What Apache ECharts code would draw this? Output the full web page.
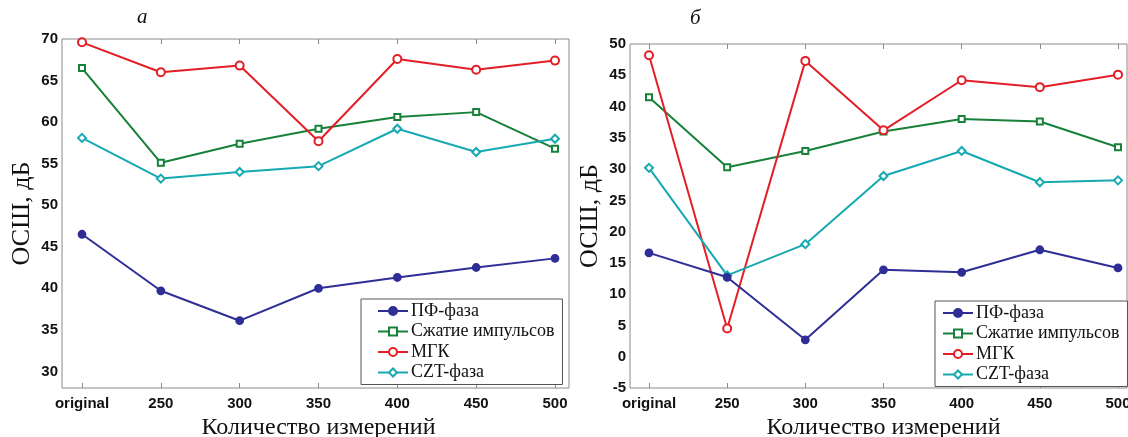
<!DOCTYPE html>
<html>
<head>
<meta charset="utf-8">
<script src="https://cdn.jsdelivr.net/npm/echarts@6/dist/echarts.min.js"></script>
<style>
  html, body { margin: 0; padding: 0; background: #fff; }
  #chart { width: 1128px; height: 437px; }
</style>
</head>
<body>
<div id="chart"></div>
<script>
// подписи по оси X
const categories = ['original', '250', '300', '350', '400', '450', '500']
const seriesNames = ['ПФ-фаза', 'Сжатие импульсов', 'МГК', 'CZT-фаза']

// а: ОСШ, дБ
const leftPf = [46.5, 39.7, 36.1, 40.0, 41.3, 42.5, 43.6]
const leftPulse = [66.5, 55.1, 57.4, 59.2, 60.6, 61.2, 56.8]
const leftMgk = [69.6, 66.0, 66.8, 57.7, 67.6, 66.3, 67.4]
const leftCzt = [58.1, 53.2, 54.0, 54.7, 59.2, 56.4, 58.0]

// б: ОСШ, дБ
const rightPf = [16.6, 12.7, 2.7, 13.9, 13.5, 17.1, 14.2]
const rightPulse = [41.5, 30.3, 32.9, 36.0, 38.0, 37.6, 33.5]
const rightMgk = [48.2, 4.5, 47.3, 36.2, 44.2, 43.1, 45.1]
const rightCzt = [30.2, 13.0, 18.0, 28.9, 32.9, 27.9, 28.2]

const colors = ['#2e2e96', '#17813a', '#e41e26', '#16a9b2']
const symbols = ['circle', 'emptyRect', 'emptyCircle', 'emptyDiamond']
const symbolSizes = [7, 6, 8, 8]

const frameColor = '#8a8a8a'
const tickFont = { fontFamily: 'Liberation Sans', fontWeight: 'bold', fontSize: 15, color: '#111' }
const serif = 'Liberation Serif'

// рамка (MATLAB box) + сетка с данными внутри неё
function buildPanel (frame, data, yMin, yMax, gi) {
  const grids = [
    { left: frame.left, top: frame.top, width: frame.width, height: frame.height, outerBoundsMode: 'none',
      show: true, borderColor: frameColor, borderWidth: 1, backgroundColor: 'transparent' },
    { left: data.left, top: frame.top, width: data.width, height: frame.height, outerBoundsMode: 'none' },
  ]
  const offL = data.left - frame.left
  const offR = frame.left + frame.width - (data.left + data.width)
  const yScale = { min: yMin, max: yMax, minInterval: 5, maxInterval: 5, splitNumber: 10 }
  const xAxes = [
    { gridIndex: gi, type: 'value', show: false },
    {
      gridIndex: gi + 1, type: 'category', data: categories, boundaryGap: false,
      axisLine: { show: false, onZero: false },
      axisTick: { inside: true, length: 5, lineStyle: { color: frameColor } },
      axisLabel: { ...tickFont, margin: 8 },
      name: 'Количество измерений', nameLocation: 'middle', nameGap: 25,
      nameTextStyle: { fontFamily: serif, fontSize: 24, color: '#111' },
    },
    {
      gridIndex: gi + 1, type: 'category', data: categories, boundaryGap: false, position: 'top',
      axisLine: { show: false, onZero: false }, axisLabel: { show: false },
      axisTick: { inside: true, length: 5, lineStyle: { color: frameColor } },
    },
  ]
  const yAxes = [
    { gridIndex: gi, type: 'value', show: false },
    {
      gridIndex: gi + 1, type: 'value', ...yScale, offset: offL,
      splitLine: { show: false }, axisLine: { show: false },
      axisTick: { inside: true, length: 5, lineStyle: { color: frameColor } },
      axisLabel: { ...tickFont, margin: 4, formatter: v => (v % 5 === 0 ? v : '') },
      name: 'ОСШ, дБ', nameLocation: 'middle', nameGap: 27,
      nameTextStyle: { fontFamily: serif, fontSize: 26, color: '#111' },
    },
    {
      gridIndex: gi + 1, type: 'value', ...yScale, offset: offR, position: 'right',
      splitLine: { show: false }, axisLine: { show: false }, axisLabel: { show: false },
      axisTick: { inside: true, length: 5, lineStyle: { color: frameColor } },
    },
  ]
  return { grids, xAxes, yAxes }
}

function lineSeries (values, i, xAxisIndex, yAxisIndex) {
  return {
    name: seriesNames[i],
    type: 'line',
    data: values,
    xAxisIndex,
    yAxisIndex,
    symbol: symbols[i],
    symbolSize: symbolSizes[i],
    color: colors[i],
    lineStyle: { width: 2, color: colors[i] },
    itemStyle: { color: colors[i], borderColor: colors[i], borderWidth: 1.8 },
    z: i === 0 ? 3 : 2,
  }
}

function legendAt (left, top, padLeft) {
  return {
    data: seriesNames,
    orient: 'vertical',
    left, top,
    itemWidth: 30, itemHeight: 10, itemGap: 2.5,
    padding: [3, 8, 3, padLeft],
    backgroundColor: '#fff',
    borderColor: '#555', borderWidth: 1, borderRadius: 0,
    textStyle: { fontFamily: serif, fontSize: 18, lineHeight: 18, color: '#111', padding: [0, 0, 0, -2] },
  }
}

const left = buildPanel({ left: 62, top: 39, width: 507, height: 349 }, { left: 82, width: 473 }, 28, 70, 0)
const right = buildPanel({ left: 630, top: 44, width: 497, height: 344 }, { left: 649, width: 469 }, -5, 50, 2)

const titleStyle = { fontFamily: serif, fontStyle: 'italic', fontWeight: 'normal', fontSize: 21, color: '#111' }

const option = {
  animation: false,
  backgroundColor: '#fff',
  title: [
    { text: 'а', left: 137, top: 7, padding: 0, textStyle: titleStyle },
    { text: 'б', left: 690, top: 8, padding: 0, textStyle: titleStyle },
  ],
  legend: [legendAt(361, 299, 16), legendAt(935, 301, 7)],
  grid: left.grids.concat(right.grids),
  xAxis: left.xAxes.concat(right.xAxes),
  yAxis: left.yAxes.concat(right.yAxes),
  series: [
    lineSeries(leftPf, 0, 1, 1),
    lineSeries(leftPulse, 1, 1, 1),
    lineSeries(leftMgk, 2, 1, 1),
    lineSeries(leftCzt, 3, 1, 1),
    lineSeries(rightPf, 0, 4, 4),
    lineSeries(rightPulse, 1, 4, 4),
    lineSeries(rightMgk, 2, 4, 4),
    lineSeries(rightCzt, 3, 4, 4),
  ],
}

const chart = echarts.init(document.getElementById('chart'))
chart.setOption(option)
</script>
</body>
</html>
